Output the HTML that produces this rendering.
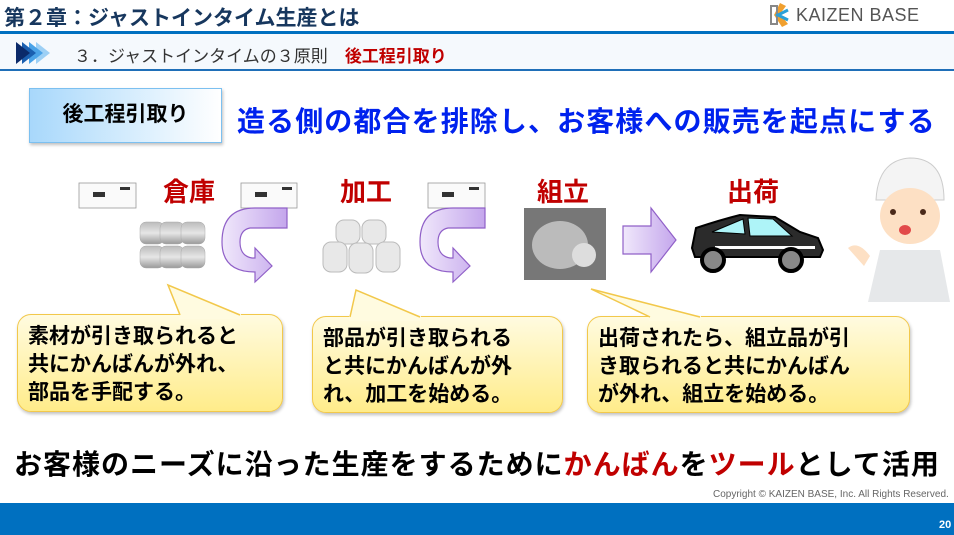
<!DOCTYPE html>
<html><head><meta charset="utf-8"><style>
*{margin:0;padding:0;box-sizing:border-box}
body{width:954px;height:535px;position:relative;background:#fff;overflow:hidden;font-family:"Liberation Sans","Noto Sans CJK JP",sans-serif}
.a{position:absolute;white-space:nowrap}
.lbl{color:#c00000;font-weight:bold;font-size:26px}
.co{position:absolute;border:1.5px solid #f2c84b;border-radius:14px;background:linear-gradient(#fffbe0,#ffec8a);box-shadow:1px 2px 3px rgba(0,0,0,.25);font-weight:bold;font-size:21px;line-height:28px;padding:8px 0 0 10px;color:#000}
</style></head><body>
<div class="a" style="left:4px;top:2px;font-size:21px;font-weight:bold;color:#17375e">第２章：ジャストインタイム生産とは</div>
<svg class="a" style="left:768px;top:2px" width="24" height="26"><path d="M12 1 L18 4 L12 12 L20 22 L14 25 L6 13 Z" fill="#f0a030"/><path d="M3 4 L9 4 L9 22 L3 22 Z" fill="none" stroke="#888" stroke-width="2"/><path d="M20 8 L10 13 L20 18" fill="none" stroke="#2aa0d8" stroke-width="3"/></svg>
<div class="a" style="left:796px;top:5px;font-size:18px;color:#555;letter-spacing:0.5px">KAIZEN BASE</div>
<div class="a" style="left:0;top:31px;width:954px;height:3px;background:#0070c0"></div>
<div class="a" style="left:0;top:34px;width:954px;height:37px;background:#f5f9fd;border-bottom:2px solid #1f6fb8"></div>
<svg class="a" style="left:16px;top:42px" width="46" height="22"><polygon points="20,0 34,11 20,22" fill="#9dd0f5"/><polygon points="13,0 27,11 13,22" fill="#4aa3e8"/><polygon points="6,0 20,11 6,22" fill="#1a5fb0"/><polygon points="0,0 14,11 0,22" fill="#0b2a6a"/></svg>
<div class="a" style="left:74px;top:42px;font-size:17px;color:#333">３．ジャストインタイムの３原則　<span style="color:#c00000;font-weight:bold">後工程引取り</span></div>
<div class="a" style="left:29px;top:88px;width:193px;height:55px;border:1.5px solid #7cc0f0;background:linear-gradient(90deg,#a8d8fb,#fff);box-shadow:1px 2px 3px rgba(0,0,0,.25);font-size:21px;font-weight:bold;text-align:center;line-height:52px">後工程引取り</div>
<div class="a" style="left:237px;top:100px;font-size:28px;font-weight:bold;color:#0022ee;letter-spacing:1.1px">造る側の都合を排除し、お客様への販売を起点にする</div>

<div class="a lbl" style="left:163px;top:172px">倉庫</div>
<div class="a lbl" style="left:340px;top:172px">加工</div>
<div class="a lbl" style="left:537px;top:172px">組立</div>
<div class="a lbl" style="left:727px;top:172px">出荷</div>

<svg class="a" style="left:0;top:150px" width="954" height="170">
<defs><linearGradient id="pg" x1="0" x2="1"><stop offset="0" stop-color="#f0e8fb"/><stop offset="1" stop-color="#c4a6ec"/></linearGradient>
<linearGradient id="cg" x1="0" y1="0" x2="0" y2="1"><stop offset="0" stop-color="#bbb"/><stop offset=".5" stop-color="#e6e6e6"/><stop offset="1" stop-color="#999"/></linearGradient></defs>
<g fill="#fafafa" stroke="#999" stroke-width="0.8">
<rect x="79" y="33" width="57" height="25"/><rect x="241" y="33" width="56" height="25"/><rect x="428" y="33" width="57" height="25"/></g>
<g fill="#333"><rect x="93" y="42" width="12" height="5"/><rect x="255" y="42" width="12" height="5"/><rect x="442" y="42" width="12" height="5"/><rect x="120" y="37" width="10" height="3"/><rect x="282" y="37" width="10" height="3"/><rect x="469" y="37" width="10" height="3"/></g>
<g fill="url(#cg)" stroke="#aaa" stroke-width="0.5">
<rect x="140" y="72" width="24" height="22" rx="6"/><rect x="160" y="72" width="24" height="22" rx="6"/><rect x="181" y="72" width="24" height="22" rx="6"/>
<rect x="140" y="96" width="24" height="22" rx="6"/><rect x="160" y="96" width="24" height="22" rx="6"/><rect x="181" y="96" width="24" height="22" rx="6"/></g>
<g fill="#e8e8e8" stroke="#bbb">
<rect x="336" y="70" width="24" height="24" rx="8"/><rect x="362" y="70" width="24" height="24" rx="8"/>
<rect x="323" y="92" width="24" height="30" rx="8"/><rect x="349" y="93" width="24" height="30" rx="8"/><rect x="376" y="92" width="24" height="30" rx="8"/></g>
<rect x="524" y="58" width="82" height="72" fill="#777"/>
<ellipse cx="560" cy="95" rx="28" ry="24" fill="#bbb"/><circle cx="584" cy="105" r="12" fill="#ddd"/>
<g fill="url(#pg)" stroke="#9060c8" stroke-width="1.2">
<path d="M287 58 L287 78 L250 78 Q240 80 240 92 Q240 106 252 108 L255 108 L255 98 L272 116 L255 132 L255 122 Q222 122 222 92 Q222 58 255 58 Z"/>
<path d="M485 58 L485 78 L448 78 Q438 80 438 92 Q438 106 450 108 L453 108 L453 98 L470 116 L453 132 L453 122 Q420 122 420 92 Q420 58 453 58 Z"/>
<path d="M623 76 L651 76 L651 58 L676 90 L651 122 L651 104 L623 104 Z"/></g>
<path d="M692 98 L696 78 Q720 70 740 65 L775 67 L800 82 L818 88 L823 100 L820 107 L695 107 Z" fill="#2b2b2b" stroke="#000" stroke-width="2"/>
<path d="M712 82 L743 69 L745 84 Z" fill="#aef4f8" stroke="#000"/><path d="M748 68 L773 69 L792 86 L750 86 Z" fill="#aef4f8" stroke="#000"/>
<rect x="715" y="96" width="100" height="3" fill="#fff"/>
<circle cx="713" cy="110" r="11" fill="#888" stroke="#000" stroke-width="4"/><circle cx="791" cy="110" r="11" fill="#888" stroke="#000" stroke-width="4"/>
<path d="M876 50 Q878 10 910 8 Q944 8 944 50 Z" fill="#f4f4f4" stroke="#ccc"/>
<ellipse cx="910" cy="66" rx="30" ry="28" fill="#fde0c4"/>
<circle cx="893" cy="62" r="3" fill="#4a2a1a"/><circle cx="923" cy="62" r="3" fill="#4a2a1a"/><ellipse cx="905" cy="80" rx="6" ry="5" fill="#e24a4a"/>
<path d="M880 100 L940 100 L950 152 L868 152 Z" fill="#e6e8ea"/>
<path d="M848 98 Q858 90 870 106 L864 116 Z" fill="#fde0c4"/>
</svg>

<div class="co" style="left:17px;top:314px;width:266px;height:98px">素材が引き取られると<br>共にかんばんが外れ、<br>部品を手配する。</div>
<div class="co" style="left:312px;top:316px;width:251px;height:97px">部品が引き取られる<br>と共にかんばんが外<br>れ、加工を始める。</div>
<div class="co" style="left:587px;top:316px;width:323px;height:97px">出荷されたら、組立品が引<br>き取られると共にかんばん<br>が外れ、組立を始める。</div>
<svg class="a" style="left:0;top:280px" width="954" height="60">
<g fill="#fffbe0"><path d="M168 5 L240 35.5 L180 35.5 Z"/><path d="M356 10 L420 37.5 L350 37.5 Z"/><path d="M591 9 L700 37.5 L650 37.5 Z"/>
<rect x="179" y="34" width="62" height="5"/><rect x="349" y="36" width="72" height="5"/><rect x="649" y="36" width="52" height="5"/></g>
<g fill="none" stroke="#f2c84b" stroke-width="1.5">
<path d="M180 35 L168 5 L240 35"/><path d="M350 37 L356 10 L420 37"/><path d="M650 37 L591 9 L700 37"/></g></svg>

<div class="a" style="left:14px;top:443px;font-size:28px;font-weight:bold;color:#000;letter-spacing:1px">お客様のニーズに沿った生産をするために<span style="color:#c00000">かんばん</span>を<span style="color:#c00000">ツール</span>として活用</div>
<div class="a" style="left:713px;top:489px;font-size:10px;color:#666">Copyright ©  KAIZEN BASE, Inc.  All Rights Reserved.</div>
<div class="a" style="left:0;top:503px;width:954px;height:32px;background:#0070c0"></div>
<div class="a" style="left:939px;top:519px;font-size:11px;color:#fff;font-weight:bold">20</div>
</body></html>
